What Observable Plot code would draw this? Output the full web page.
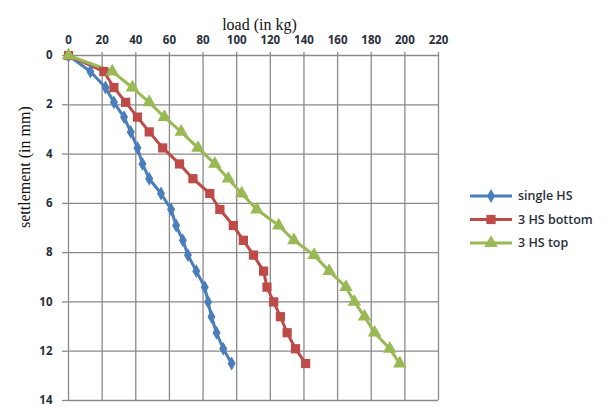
<!DOCTYPE html>
<html>
<head>
<meta charset="utf-8">
<script src="https://cdn.jsdelivr.net/npm/d3@7"></script>
<script src="https://cdn.jsdelivr.net/npm/@observablehq/plot@0.6"></script>
<style>
  html, body { margin: 0; padding: 0; background: #fff; }
  #wrap { position: relative; width: 615px; height: 407px; overflow: hidden; }
  #legend { position: absolute; left: 462px; top: 183px; }
</style>
</head>
<body>
<div id="wrap"></div>
<script>
// settlement (mm) at each load step
const settlement = [0, 0.65, 1.3, 1.9, 2.5, 3.1, 3.75, 4.4, 5, 5.6, 6.25, 6.9, 7.5, 8.1, 8.75, 9.4, 10, 10.6, 11.25, 11.9, 12.5];
// load (kg) per series
const singleHS = [0, 13, 22, 27, 33, 37, 41, 44, 48, 55, 61, 64, 68, 71, 76, 81, 83, 85, 88, 92, 97];
const hsBottom = [0, 21, 27, 34, 41, 48, 56, 66, 74, 84, 90, 98, 104, 110, 116, 118, 122, 126, 130, 135, 141];
const hsTop    = [0, 26, 38, 48, 57, 67, 77, 87, 95, 103, 112, 125, 134, 146, 155, 165, 170, 176, 182, 191, 197];

const seriesNames = ["single HS", "3 HS bottom", "3 HS top"];
const seriesColors = ["#4a7ebb", "#be4b48", "#98b954"];
const seriesSymbols = ["diamond", "square", "triangle"];
const seriesR = [4.2, 5.2, 5.0];
const xTicks = [0, 20, 40, 60, 80, 100, 120, 140, 160, 180, 200, 220];
const yTicks = [0, 2, 4, 6, 8, 10, 12, 14];
const xTitle = "load (in kg)";
const yTitle = "settlement (in mm)";

const seriesValues = [singleHS, hsBottom, hsTop];
const data = seriesValues.flatMap((vals, i) =>
  vals.map((v, j) => ({ series: seriesNames[i], load: v, settlement: settlement[j] }))
);

const lineMarks = seriesNames.map((name, i) =>
  Plot.line(data.filter(d => d.series === name), {
    x: "load", y: "settlement", stroke: seriesColors[i], strokeWidth: 3
  })
);
const dotMarks = seriesNames.map((name, i) =>
  Plot.dot(data.filter(d => d.series === name), {
    x: "load", y: "settlement", fill: seriesColors[i], stroke: "none",
    symbol: seriesSymbols[i], r: seriesR[i]
  })
);

const chart = Plot.plot({
  width: 615,
  height: 407,
  marginLeft: 68,
  marginRight: 177,
  marginTop: 55,
  marginBottom: 7,
  style: { fontFamily: "Open Sans, sans-serif", fontSize: "11px", background: "#fff", overflow: "visible" },
  x: { domain: [0, 220] },
  y: { domain: [0, 14], reverse: true },
  marks: [
    Plot.gridX(xTicks, { stroke: "#8a8a8a", strokeOpacity: 1, strokeWidth: 1.3 }),
    Plot.gridY(yTicks, { stroke: "#8a8a8a", strokeOpacity: 1, strokeWidth: 1.3 }),
    Plot.axisX(xTicks, { anchor: "top", tickSize: 4, tickPadding: 8, stroke: "#8a8a8a", strokeWidth: 1.3,
      fill: "#2a2f3a", fontWeight: 700, fontSize: 11.5, label: null }),
    Plot.axisY(yTicks, { anchor: "left", tickSize: 6, tickPadding: 10, stroke: "#8a8a8a", strokeWidth: 1.3,
      fill: "#2a2f3a", fontWeight: 700, fontSize: 11.5, label: null }),
    Plot.text([xTitle], { frameAnchor: "top", dx: 6, dy: -37, text: d => d,
      fontFamily: "Liberation Serif, serif", fontSize: 16, fill: "#111" }),
    Plot.text([yTitle], { frameAnchor: "left", dx: -44, rotate: -90, text: d => d,
      fontFamily: "Liberation Serif, serif", fontSize: 16, fill: "#111" }),
    ...lineMarks,
    ...dotMarks
  ]
});
document.getElementById("wrap").appendChild(chart);

// legend
const lg = d3.select("#wrap").append("svg")
  .attr("id", "legend").attr("width", 150).attr("height", 80);
seriesNames.forEach((name, i) => {
  const g = lg.append("g").attr("transform", `translate(0, ${13 + i * 23.5})`);
  g.append("line").attr("x1", 8).attr("x2", 50).attr("y1", 0).attr("y2", 0)
    .attr("stroke", seriesColors[i]).attr("stroke-width", 3);
  const sym = { diamond: d3.symbolDiamond, square: d3.symbolSquare, triangle: d3.symbolTriangle }[seriesSymbols[i]];
  g.append("path").attr("transform", "translate(29,0)")
    .attr("d", d3.symbol(sym, Math.PI * seriesR[i] * seriesR[i])())
    .attr("fill", seriesColors[i]);
  g.append("text").attr("x", 56).attr("y", 0).attr("dy", "0.35em")
    .attr("font-family", "Open Sans, sans-serif").attr("font-size", 12.5).attr("font-weight", 600)
    .attr("fill", "#2a2f3a").text(name);
});
</script>
</body>
</html>
